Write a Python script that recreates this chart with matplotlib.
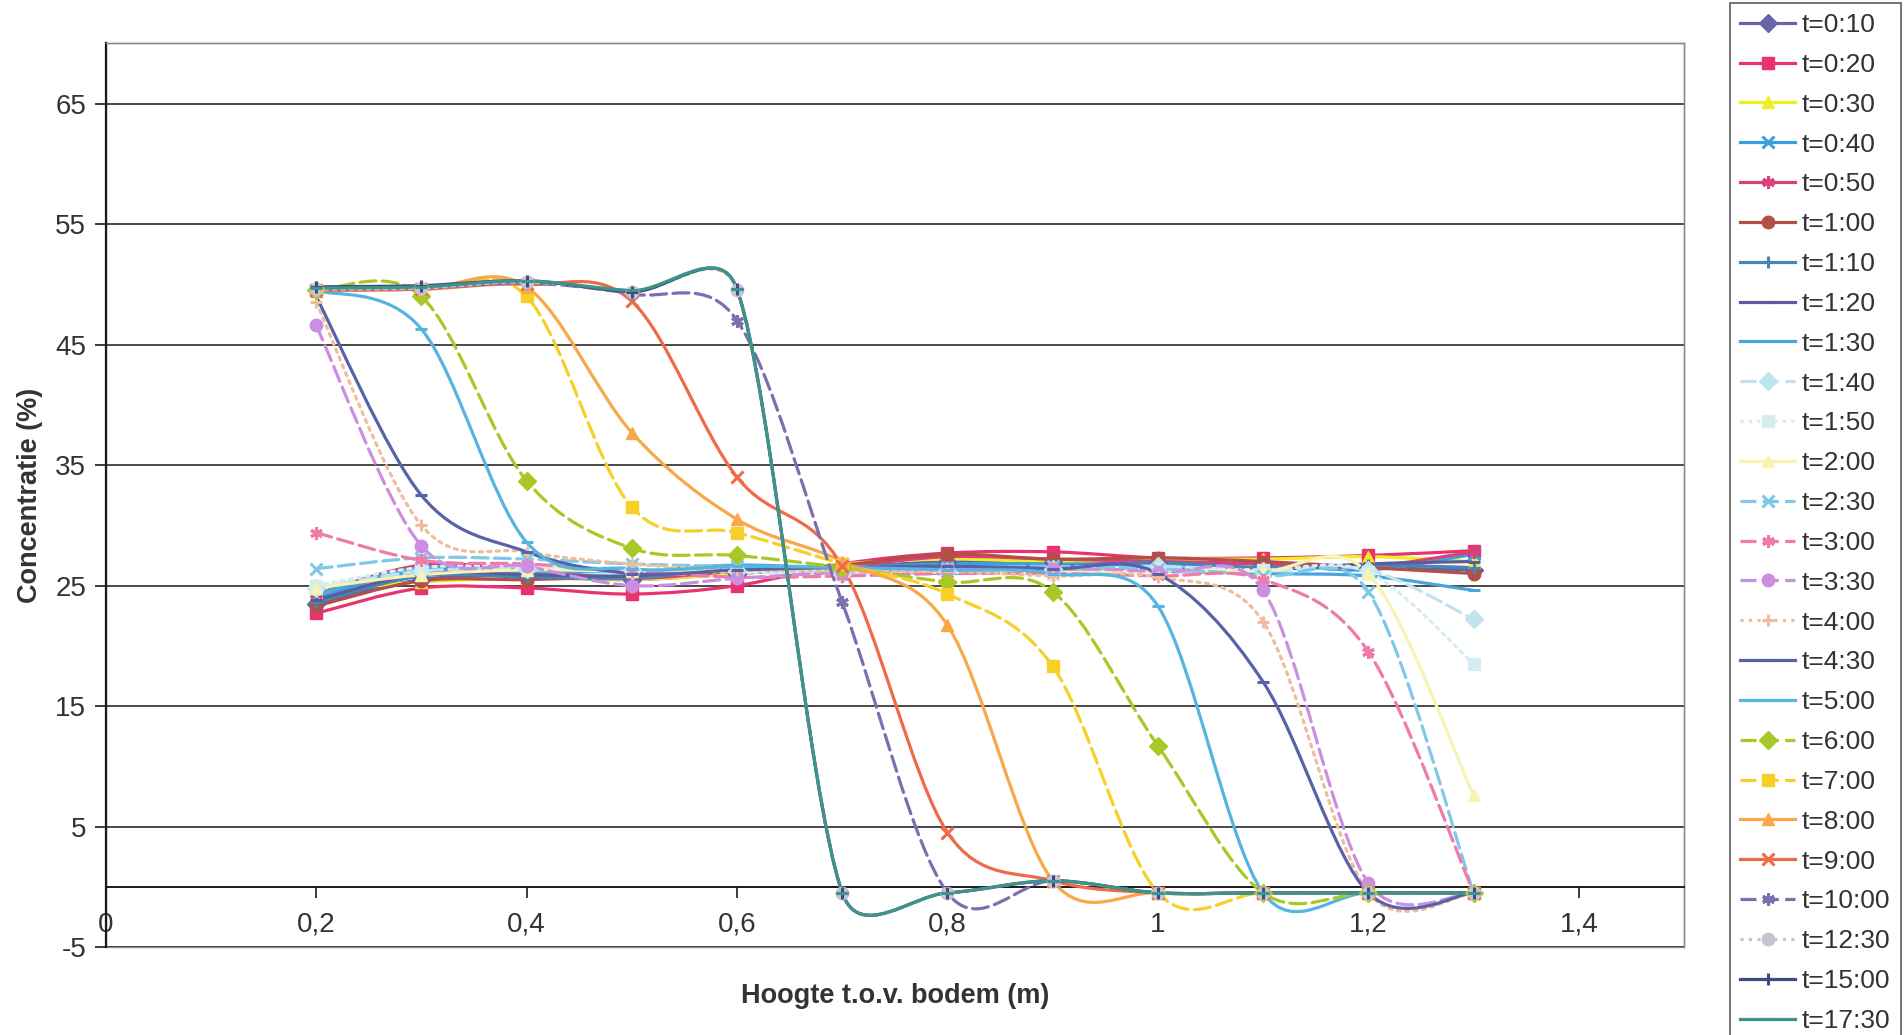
import numpy as np
import matplotlib
matplotlib.use('Agg')
import matplotlib.pyplot as plt
from matplotlib.path import Path
from matplotlib.patches import PathPatch, Rectangle
from matplotlib.lines import Line2D

plt.rcParams['font.family'] = ['Liberation Sans', 'DejaVu Sans']
plt.rcParams['axes.unicode_minus'] = False

# hoogte van de meetpunten (m)
hoogte = [0.2, 0.3, 0.4, 0.5, 0.6, 0.7, 0.8, 0.9, 1.0, 1.1, 1.2, 1.3]

labels = ['t=0:10', 't=0:20', 't=0:30', 't=0:40', 't=0:50', 't=1:00', 't=1:10',
          't=1:20', 't=1:30', 't=1:40', 't=1:50', 't=2:00', 't=2:30', 't=3:00',
          't=3:30', 't=4:00', 't=4:30', 't=5:00', 't=6:00', 't=7:00', 't=8:00',
          't=9:00', 't=10:00', 't=12:30', 't=15:00', 't=17:30']

# concentratie (%) per tijdstip
t0_10 = [23.5, 25.5, 25.8, 25.5, 26.0, 26.5, 27.0, 27.0, 27.0, 26.8, 26.5, 26.3]
t0_20 = [22.7, 24.8, 24.8, 24.3, 25.0, 26.8, 27.7, 27.8, 27.3, 27.3, 27.5, 27.9]
t0_30 = [24.5, 25.3, 25.6, 25.5, 26.0, 26.8, 27.2, 27.0, 27.2, 27.2, 27.4, 27.0]
t0_40 = [24.0, 26.3, 26.0, 25.8, 26.3, 26.5, 26.8, 26.8, 26.7, 26.8, 26.3, 27.6]
t0_50 = [24.3, 26.7, 26.3, 25.6, 26.2, 26.6, 27.4, 27.2, 27.0, 26.8, 26.6, 27.8]
t1_00 = [23.3, 25.4, 25.5, 25.8, 26.2, 26.7, 27.6, 27.2, 27.3, 27.0, 26.5, 26.0]
t1_10 = [23.6, 25.8, 25.7, 25.6, 26.5, 26.4, 26.5, 26.6, 26.9, 26.5, 26.7, 26.5]
t1_20 = [23.8, 26.0, 25.9, 25.8, 26.6, 26.3, 26.3, 26.2, 26.4, 26.3, 26.8, 27.0]
t1_30 = [24.3, 26.5, 26.2, 26.2, 26.7, 26.4, 26.0, 26.3, 26.2, 26.0, 25.8, 24.6]
t1_40 = [24.8, 26.2, 26.4, 26.3, 26.2, 26.0, 26.2, 26.4, 26.6, 26.2, 26.3, 22.2]
t1_50 = [25.0, 26.5, 26.6, 26.4, 26.1, 26.2, 26.1, 26.0, 26.4, 26.3, 26.1, 18.5]
t2_00 = [24.8, 25.9, 26.3, 26.2, 26.3, 26.4, 26.1, 26.1, 26.2, 26.2, 26.0, 7.6]
t2_30 = [26.4, 27.3, 27.2, 26.8, 26.6, 26.6, 26.5, 26.6, 26.4, 25.8, 24.5, -0.5]
t3_00 = [29.4, 27.1, 26.8, 26.2, 25.7, 25.8, 26.0, 26.0, 25.8, 25.5, 19.5, -0.5]
t3_30 = [46.6, 28.3, 26.6, 25.0, 25.6, 26.1, 26.3, 26.4, 26.1, 24.6, 0.3, -0.5]
t4_00 = [48.5, 30.0, 27.8, 26.8, 26.3, 26.2, 26.2, 25.8, 25.7, 22.0, -0.5, -0.5]
t4_30 = [49.0, 32.5, 27.8, 26.0, 26.3, 26.5, 26.6, 26.4, 26.0, 17.0, -0.5, -0.5]
t5_00 = [49.5, 46.3, 28.6, 26.4, 26.6, 26.5, 26.3, 26.0, 23.3, -0.5, -0.5, -0.5]
t6_00 = [49.5, 49.0, 33.7, 28.1, 27.5, 26.5, 25.3, 24.5, 11.7, -0.5, -0.5, -0.5]
t7_00 = [49.5, 49.6, 49.0, 31.5, 29.4, 26.8, 24.3, 18.3, -0.5, -0.5, -0.5, -0.5]
t8_00 = [49.5, 49.6, 49.8, 37.7, 30.5, 27.0, 21.7, 0.5, -0.5, -0.5, -0.5, -0.5]
t9_00 = [49.5, 49.6, 50.0, 48.6, 34.0, 26.6, 4.5, 0.5, -0.5, -0.5, -0.5, -0.5]
t10_00 = [49.6, 49.7, 50.1, 49.2, 47.0, 23.6, -0.5, 0.5, -0.5, -0.5, -0.5, -0.5]
t12_30 = [49.6, 49.7, 50.2, 49.4, 49.5, -0.5, -0.5, 0.5, -0.5, -0.5, -0.5, -0.5]
t15_00 = [49.8, 49.9, 50.3, 49.4, 49.6, -0.5, -0.5, 0.5, -0.5, -0.5, -0.5, -0.5]
t17_30 = [49.7, 49.8, 50.3, 49.5, 49.6, -0.5, -0.5, 0.5, -0.5, -0.5, -0.5, -0.5]

series = [t0_10, t0_20, t0_30, t0_40, t0_50, t1_00, t1_10, t1_20, t1_30, t1_40,
          t1_50, t2_00, t2_30, t3_00, t3_30, t4_00, t4_30, t5_00, t6_00, t7_00,
          t8_00, t9_00, t10_00, t12_30, t15_00, t17_30]

xticks = [0, 0.2, 0.4, 0.6, 0.8, 1.0, 1.2, 1.4]
xticklabels = ['0', '0,2', '0,4', '0,6', '0,8', '1', '1,2', '1,4']
yticks = [-5, 5, 15, 25, 35, 45, 55, 65]

colors = ['#6464a6', '#e8336e', '#f0ec26', '#3aa0e0', '#d8407e', '#b25048',
          '#4a84b4', '#5c5c98', '#4aa4dc', '#bfe4f0', '#d4eef0', '#f6f4b0',
          '#80c8e8', '#f07aaa', '#cc8ee0', '#eebe9c', '#5862a8', '#56b4e0',
          '#a8c828', '#f6d028', '#f8a848', '#f06a48', '#7a70b0', '#c4c4d2',
          '#3c4c84', '#3e9488']
star = (6, 2, 0)
markers = ['D', 's', '^', 'x', star, 'o', '+', '_', '_',
           'D', 's', '^', 'x', star, 'o', '+', '_', '_',
           'D', 's', '^', 'x', star, 'o', '+', '_']
dash = (0, (5, 2))
styles = ['-', '-', '-', '-', '-', '-', '-', '-', '-',
          dash, ':', '-', dash, dash, dash, ':', '-', '-',
          dash, dash, '-', '-', dash, ':', '-', '-']

fig = plt.figure(figsize=(19.04, 10.35), dpi=100)
ax = fig.add_axes([0.0555, 0.085, 0.829, 0.873])
ax.set_xlim(0, 1.5)
ax.set_ylim(-5, 70)


def smooth_path(xs, ys):
    # excel-achtige gladde lijn: bezier in schermruimte, begrensde raaklijnen
    pts = ax.transData.transform(np.column_stack([xs, ys]))
    n = len(pts)
    verts = [pts[0]]
    codes = [Path.MOVETO]
    for i in range(n - 1):
        p0 = pts[max(i - 1, 0)]
        p1 = pts[i]
        p2 = pts[i + 1]
        p3 = pts[min(i + 2, n - 1)]
        seg = np.hypot(*(p2 - p1))
        t1 = (p2 - p0) / 6.0
        t2 = (p3 - p1) / 6.0
        for t in (t1, t2):
            l = np.hypot(*t)
            if l > 0.5 * seg and l > 0:
                t *= 0.5 * seg / l
        verts += [p1 + t1, p2 - t2, p2]
        codes += [Path.CURVE4] * 3
    verts = ax.transData.inverted().transform(np.array(verts))
    return Path(verts, codes)


handles = []
for i, ys in enumerate(series):
    c = colors[i]
    m = markers[i]
    lw_m = 2.2 if m in ('x', '+', '_') or m == star else 1
    ax.add_patch(PathPatch(smooth_path(hoogte, ys), fill=False, edgecolor=c,
                           lw=2.3, linestyle=styles[i], zorder=3 + i * 0.01,
                           capstyle='round'))
    ax.plot(hoogte, ys, linestyle='none', marker=m, ms=9, color=c, mfc=c,
            mec=c, mew=lw_m, zorder=3.5 + i * 0.01)
    handles.append(Line2D([], [], color=c, lw=2.3, linestyle=styles[i],
                          marker=m, ms=9, mfc=c, mec=c, mew=lw_m,
                          label=labels[i]))

# gridlijnen en assen
ax.set_yticks(yticks)
ax.set_xticks(xticks)
ax.set_xticklabels(xticklabels)
ax.grid(axis='y', color='#2a2a2a', lw=1.2, zorder=1)
ax.set_axisbelow(True)

ax.spines['bottom'].set_position(('data', 0))
ax.spines['bottom'].set_color('#1a1a1a')
ax.spines['bottom'].set_linewidth(1.4)
ax.spines['left'].set_color('#1a1a1a')
ax.spines['left'].set_linewidth(1.6)
for s in ('top', 'right'):
    ax.spines[s].set_color('#8a8a8a')
    ax.spines[s].set_linewidth(1.0)
ax.add_patch(Rectangle((0, 0), 1, 1, transform=ax.transAxes, fill=False,
                       edgecolor='#8a8a8a', lw=1.0, clip_on=False, zorder=0.5))

ax.tick_params(axis='y', direction='out', length=8, width=1.2, pad=6,
               labelsize=20, labelcolor='#333333', color='#1a1a1a')
ax.tick_params(axis='x', direction='out', length=8, width=1.2, pad=10,
               labelsize=20, labelcolor='#333333', color='#1a1a1a')

ax.set_xlabel('Hoogte t.o.v. bodem (m)', fontsize=19.5, fontweight='bold',
              color='#333333')
ax.xaxis.set_label_coords(0.5, -0.054)
ax.xaxis.label.set_verticalalignment('center')
ax.set_ylabel('Concentratie (%)', fontsize=19.5, fontweight='bold',
              color='#333333')
ax.yaxis.set_label_coords(-0.048, 0.5)
ax.yaxis.label.set_verticalalignment('center')

leg = fig.legend(handles=handles, loc='upper left',
                 bbox_to_anchor=(1730 / 1904, 1 - 3 / 1035),
                 bbox_transform=fig.transFigure, fontsize=19, frameon=True,
                 fancybox=False, edgecolor='#333333', borderaxespad=0,
                 borderpad=0.38, labelspacing=0.6, handlelength=2.1,
                 handletextpad=0.25)
leg.get_frame().set_linewidth(1.2)
for txt in leg.get_texts():
    txt.set_color('#333333')

fig.savefig('out.png', dpi=100)
